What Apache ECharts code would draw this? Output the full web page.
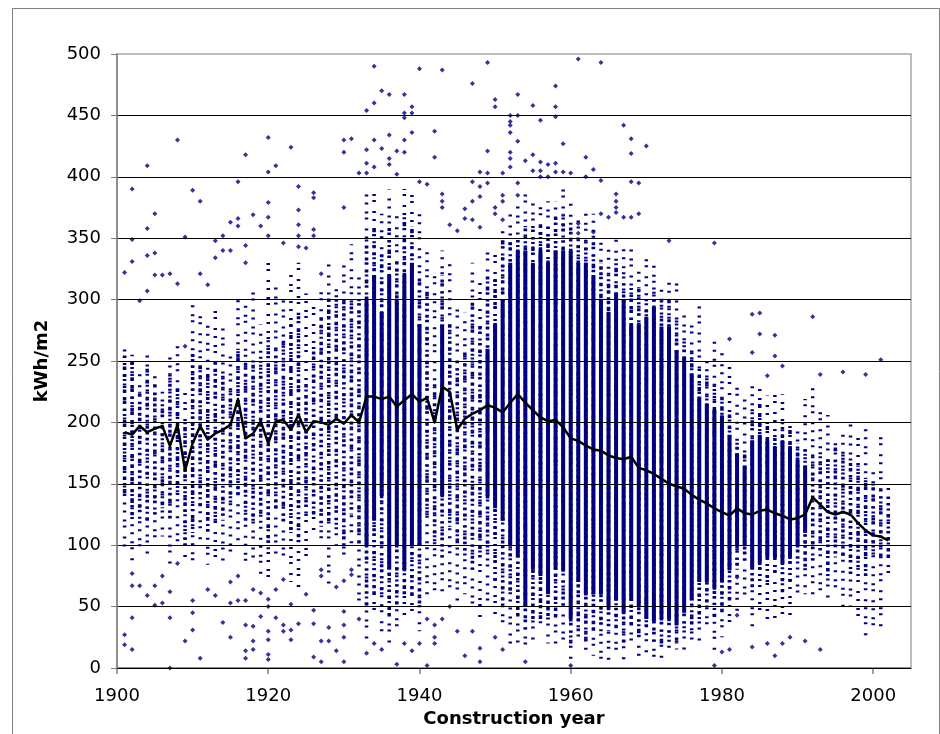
<!DOCTYPE html>
<html>
<head>
<meta charset="utf-8">
<title>kWh/m2 by construction year</title>
<script src="https://cdn.jsdelivr.net/npm/echarts@6/dist/echarts.min.js"></script>
<style>
  html, body { margin: 0; padding: 0; background: #fff; }
  #chart { width: 940px; height: 734px; }
</style>
</head>
<body>
<div id="chart"></div>
<script>
var years = [
  1901, 1902, 1903, 1904, 1905, 1906, 1907, 1908, 1909, 1910,
  1911, 1912, 1913, 1914, 1915, 1916, 1917, 1918, 1919, 1920,
  1921, 1922, 1923, 1924, 1925, 1926, 1927, 1928, 1929, 1930,
  1931, 1932, 1933, 1934, 1935, 1936, 1937, 1938, 1939, 1940,
  1941, 1942, 1943, 1944, 1945, 1946, 1947, 1948, 1949, 1950,
  1951, 1952, 1953, 1954, 1955, 1956, 1957, 1958, 1959, 1960,
  1961, 1962, 1963, 1964, 1965, 1966, 1967, 1968, 1969, 1970,
  1971, 1972, 1973, 1974, 1975, 1976, 1977, 1978, 1979, 1980,
  1981, 1982, 1983, 1984, 1985, 1986, 1987, 1988, 1989, 1990,
  1991, 1992, 1993, 1994, 1995, 1996, 1997, 1998, 1999, 2000,
  2001, 2002
];

// yearly average (black line)
var averageValues = [
  192, 190, 197, 192, 195, 197, 181, 198, 161, 183,
  197, 186, 191, 194, 198, 219, 187, 191, 201, 183,
  201, 202, 194, 206, 192, 201, 200, 198, 203, 199,
  206, 200, 221, 221, 219, 221, 213, 218, 223, 217,
  220, 200, 229, 225, 194, 203, 207, 210, 214, 212,
  208, 216, 223, 216, 210, 204, 201, 202, 196, 187,
  185, 181, 178, 177, 173, 171, 170, 172, 163, 161,
  158, 154, 150, 148, 146, 141, 137, 134, 130, 127,
  124, 130, 126, 125, 128, 129, 126, 124, 121, 122,
  125, 139, 133, 127, 125, 127, 125, 118, 112, 108,
  107, 104
];

// value band per year where buildings are scattered fairly often
var sparseLow = [
  99, 87, 95, 90, 100, 107, 85, 100, 88, 82,
  100, 84, 88, 86, 90, 100, 80, 90, 76, 70,
  90, 85, 70, 66, 88, 110, 100, 64, 100, 90,
  100, 50, 20, 40, 30, 20, 30, 40, 40, 30,
  60, 60, 60, 60, 50, 60, 50, 40, 50, 40,
  30, 20, 20, 15, 20, 30, 20, 20, 20, 5,
  20, 10, 10, 5, 5, 10, 3, 15, 10, 12,
  5, 5, 10, 15, 15, 20, 20, 30, 10, 25,
  35, 45, 55, 30, 40, 40, 40, 40, 40, 55,
  60, 60, 60, 55, 60, 45, 50, 40, 25, 30,
  30, 70
];
var sparseHigh = [
  260, 255, 240, 258, 240, 225, 260, 265, 225, 297,
  290, 280, 295, 280, 260, 300, 300, 310, 280, 330,
  310, 300, 320, 330, 305, 300, 310, 330, 313, 332,
  345, 320, 390, 390, 370, 390, 370, 390, 390, 370,
  340, 320, 340, 330, 295, 290, 330, 315, 340, 340,
  360, 370, 380, 390, 380, 380, 380, 380, 390, 380,
  370, 370, 370, 350, 345, 350, 345, 345, 330, 335,
  330, 310, 320, 316, 289, 282, 297, 255, 266, 259,
  250, 233, 220, 235, 230, 222, 226, 223, 200, 199,
  219, 235, 212, 206, 186, 190, 200, 191, 198, 160,
  192, 150
];

// band where the dots are packed closely
var denseLow = [
  140, 118, 120, 120, 125, 130, 120, 140, 100, 110,
  130, 110, 120, 120, 130, 140, 120, 120, 120, 95,
  130, 120, 110, 100, 125, 125, 115, 118, 115, 100,
  125, 100, 50, 60, 60, 40, 50, 60, 60, 50,
  120, 100, 90, 115, 100, 90, 80, 90, 90, 70,
  50, 60, 40, 30, 40, 40, 40, 40, 50, 20,
  30, 20, 30, 30, 30, 30, 20, 35, 25, 30,
  20, 20, 25, 20, 30, 30, 40, 50, 40, 45,
  55, 80, 85, 65, 70, 70, 75, 60, 70, 85,
  80, 85, 95, 75, 90, 90, 75, 80, 75, 90,
  90, 90
];
var denseHigh = [
  255, 250, 225, 245, 230, 215, 240, 230, 200, 260,
  250, 240, 250, 240, 230, 260, 250, 250, 250, 270,
  260, 270, 280, 290, 230, 260, 285, 300, 300, 300,
  300, 300, 350, 360, 340, 360, 330, 370, 360, 320,
  310, 230, 320, 280, 250, 260, 300, 280, 320, 320,
  350, 350, 350, 360, 360, 360, 360, 370, 370, 360,
  350, 350, 350, 330, 320, 330, 320, 310, 310, 300,
  310, 300, 300, 285, 270, 260, 245, 240, 230, 225,
  207, 185, 175, 210, 215, 200, 188, 200, 194, 183,
  178, 175, 175, 170, 180, 175, 170, 165, 155, 150,
  145, 140
];

// band where the column of dots is completely filled
var solidLow = [
  null, null, null, null, null, null, null, null, null, null,
  null, null, null, null, null, null, null, null, null, null,
  null, null, null, null, null, null, null, null, null, null,
  null, null, 100, 120, 140, 80, 100, 80, 100, 100,
  null, null, 140, null, null, null, null, null, 140, 130,
  120, 100, 90, 50, 80, 75, 60, 80, 80, 40,
  70, 60, 60, 60, 50, 55, 45, 55, 50, 40,
  38, 40, 40, 35, 45, 55, 70, 70, 65, 70,
  80, 100, 100, 80, 85, 90, 90, 85, 90, 100,
  110, null, null, null, null, null, null, null, null, null,
  null, null
];
var solidHigh = [
  null, null, null, null, null, null, null, null, null, null,
  null, null, null, null, null, null, null, null, null, null,
  null, null, null, null, null, null, null, null, null, null,
  null, null, 300, 320, 290, 320, 300, 320, 330, 280,
  null, null, 280, null, null, null, null, null, 260, 280,
  300, 330, 340, 340, 330, 340, 330, 340, 340, 340,
  330, 330, 320, 300, 290, 305, 300, 280, 280, 286,
  294, 278, 278, 259, 253, 240, 221, 215, 210, 205,
  190, 175, 165, 185, 190, 185, 180, 185, 180, 170,
  165, null, null, null, null, null, null, null, null, null,
  null, null
];

// single buildings outside the bands: [year, kWh/m2]
var outliers = [
  [1901, 322], [1901, 27], [1901, 19],
  [1902, 390], [1902, 349], [1902, 331], [1902, 77], [1902, 67], [1902, 41], [1902, 15],
  [1903, 299], [1903, 67],
  [1904, 409], [1904, 358], [1904, 336], [1904, 307], [1904, 59],
  [1905, 370], [1905, 338], [1905, 320], [1905, 67], [1905, 51],
  [1906, 320], [1906, 75], [1906, 53],
  [1907, 321], [1907, 62], [1907, 41], [1907, 0],
  [1908, 430], [1908, 313], [1908, 85],
  [1909, 351], [1909, 262], [1909, 22],
  [1910, 389], [1910, 55], [1910, 45], [1910, 31],
  [1911, 380], [1911, 321], [1911, 8],
  [1912, 312], [1912, 64],
  [1913, 348], [1913, 334], [1913, 59],
  [1914, 352], [1914, 340], [1914, 37],
  [1915, 363], [1915, 340], [1915, 70], [1915, 53], [1915, 25],
  [1916, 396], [1916, 366], [1916, 360], [1916, 75], [1916, 55],
  [1917, 418], [1917, 344], [1917, 330], [1917, 55], [1917, 35], [1917, 14], [1917, 8],
  [1918, 369], [1918, 64], [1918, 34], [1918, 22], [1918, 15],
  [1919, 360], [1919, 61], [1919, 42],
  [1920, 432], [1920, 404], [1920, 379], [1920, 367], [1920, 352], [1920, 56], [1920, 50],
  [1920, 30], [1920, 23], [1920, 11], [1920, 7],
  [1921, 409], [1921, 64], [1921, 41],
  [1922, 346], [1922, 72], [1922, 35], [1922, 30],
  [1923, 424], [1923, 52], [1923, 31], [1923, 23],
  [1924, 392], [1924, 373], [1924, 361], [1924, 352], [1924, 343], [1924, 36],
  [1925, 342], [1925, 60],
  [1926, 387], [1926, 383], [1926, 357], [1926, 352], [1926, 47], [1926, 36], [1926, 9],
  [1927, 321], [1927, 80], [1927, 75], [1927, 22], [1927, 5],
  [1928, 33], [1928, 22],
  [1929, 66], [1929, 14],
  [1930, 430], [1930, 420], [1930, 375], [1930, 71], [1930, 46], [1930, 35], [1930, 25], [1930, 5],
  [1931, 431], [1931, 80], [1931, 76],
  [1932, 403], [1932, 40],
  [1933, 454], [1933, 422], [1933, 411], [1933, 403], [1933, 12],
  [1934, 490], [1934, 460], [1934, 430], [1934, 408], [1934, 20],
  [1935, 470], [1935, 423], [1935, 15],
  [1936, 467], [1936, 434], [1936, 415], [1936, 410],
  [1937, 421], [1937, 402], [1937, 3],
  [1938, 467], [1938, 452], [1938, 448], [1938, 430], [1938, 420], [1938, 20],
  [1939, 457], [1939, 452], [1939, 436], [1939, 14],
  [1940, 488], [1940, 396], [1940, 20],
  [1941, 394], [1941, 40], [1941, 2],
  [1942, 437], [1942, 416], [1942, 35], [1942, 25], [1942, 20],
  [1943, 487], [1943, 386], [1943, 380], [1943, 375], [1943, 40],
  [1944, 361], [1944, 50],
  [1945, 356], [1945, 30],
  [1946, 374], [1946, 366], [1946, 10],
  [1947, 476], [1947, 396], [1947, 380], [1947, 365], [1947, 30],
  [1948, 404], [1948, 392], [1948, 384], [1948, 359], [1948, 16], [1948, 5],
  [1949, 493], [1949, 421], [1949, 403], [1949, 395],
  [1950, 463], [1950, 457], [1950, 375], [1950, 370], [1950, 25],
  [1951, 403], [1951, 385], [1951, 380], [1951, 365], [1951, 15],
  [1952, 450], [1952, 445], [1952, 442], [1952, 436], [1952, 420], [1952, 415], [1952, 408],
  [1953, 467], [1953, 450], [1953, 429], [1953, 395], [1953, 385],
  [1954, 413], [1954, 5],
  [1955, 458], [1955, 418], [1955, 405],
  [1956, 446], [1956, 412], [1956, 405], [1956, 400],
  [1957, 410], [1957, 400],
  [1958, 474], [1958, 457], [1958, 449], [1958, 411], [1958, 404],
  [1959, 427], [1959, 404],
  [1960, 403], [1960, 2],
  [1961, 496], [1961, 362], [1961, 354],
  [1962, 416], [1962, 400],
  [1963, 406], [1963, 355],
  [1964, 493], [1964, 397], [1964, 370],
  [1965, 367],
  [1966, 386], [1966, 380], [1966, 375], [1966, 371],
  [1967, 442], [1967, 367],
  [1968, 431], [1968, 419], [1968, 396], [1968, 367],
  [1969, 395], [1969, 370],
  [1970, 425],
  [1973, 348],
  [1979, 346], [1979, 2],
  [1980, 13],
  [1981, 268], [1981, 15],
  [1982, 74], [1982, 43],
  [1984, 288], [1984, 257], [1984, 17],
  [1985, 289], [1985, 272],
  [1986, 238], [1986, 20],
  [1987, 271], [1987, 254], [1987, 10],
  [1988, 246], [1988, 20],
  [1989, 25],
  [1991, 22],
  [1992, 286],
  [1993, 239], [1993, 15],
  [1996, 241],
  [1999, 239],
  [2001, 251]
];

var xTicks = [1900, 1920, 1940, 1960, 1980, 2000];

var navy = '#000080';
var font = '"DejaVu Sans", Arial, sans-serif';

function bandData(low, high) {
  var out = [];
  for (var i = 0; i < years.length; i++) {
    if (low[i] != null && high[i] != null) {
      out.push([years[i], low[i], high[i]]);
    }
  }
  return out;
}

// a column of markers: solid rect, or an uneven dash so rows do not line up
function columnRenderer(width, dash) {
  return function(params, api) {
    var top = api.coord([api.value(0), api.value(2)]);
    var bottom = api.coord([api.value(0), api.value(1)]);
    if (!dash) {
      return {
        type: 'rect',
        shape: { x: top[0] - width / 2, y: top[1], width: width, height: bottom[1] - top[1] },
        style: { fill: navy }
      };
    }
    return {
      type: 'line',
      shape: { x1: top[0], y1: bottom[1], x2: top[0], y2: top[1] },
      style: {
        stroke: navy, lineWidth: width, lineDash: dash,
        lineDashOffset: (params.dataIndex * 7) % 17
      }
    };
  };
}

var myChart = echarts.init(document.getElementById('chart'));
myChart.setOption({
  backgroundColor: '#fff',
  animation: false,
  textStyle: { fontFamily: font },
  graphic: [{
    type: 'rect',
    left: 10, top: 6,
    shape: { width: 927, height: 760 },
    style: { fill: null, stroke: '#808080', lineWidth: 1 },
    silent: true
  }],
  grid: {
    left: 117, right: 29, top: 54, bottom: 66,
    show: true, borderColor: '#a8a8a8', borderWidth: 1.5
  },
  xAxis: {
    type: 'value',
    min: 1900, max: 2005, interval: 20,
    name: 'Construction year',
    nameLocation: 'middle',
    nameGap: 42,
    nameTextStyle: { fontFamily: font, fontSize: 18, fontWeight: 'bold', color: '#000' },
    axisLine: { lineStyle: { color: '#808080', width: 1.5 } },
    axisTick: { show: true, length: 6, customValues: xTicks, lineStyle: { color: '#808080', width: 1.5 } },
    axisLabel: {
      customValues: xTicks, margin: 19, fontSize: 18, color: '#000', fontFamily: font,
      formatter: function(v) { return String(v); }
    },
    splitLine: { show: false }
  },
  yAxis: {
    type: 'value',
    min: 0, max: 500, interval: 50,
    z: 6,
    name: 'kWh/m2',
    nameLocation: 'middle',
    nameGap: 66,
    nameTextStyle: { fontFamily: font, fontSize: 18, fontWeight: 'bold', color: '#000' },
    axisLine: { show: true, lineStyle: { color: '#808080', width: 1.5 } },
    axisTick: { show: true, length: 6, lineStyle: { color: '#808080', width: 1 } },
    axisLabel: { margin: 16, fontSize: 18, color: '#000', fontFamily: font },
    splitLine: { show: true, showMaxLine: false, lineStyle: { color: '#000', width: 1 } }
  },
  series: [
    {
      type: 'custom',
      name: 'sparse',
      renderItem: columnRenderer(3.5, [2, 6, 2, 9, 2, 4, 2, 7]),
      encode: { x: 0, y: [1, 2] },
      data: bandData(sparseLow, sparseHigh),
      z: 2
    },
    {
      type: 'custom',
      name: 'dense',
      renderItem: columnRenderer(3.5, [2, 2, 3, 4, 2, 3, 2, 5]),
      encode: { x: 0, y: [1, 2] },
      data: bandData(denseLow, denseHigh),
      z: 3
    },
    {
      type: 'custom',
      name: 'solid',
      renderItem: columnRenderer(4, null),
      encode: { x: 0, y: [1, 2] },
      data: bandData(solidLow, solidHigh),
      z: 4
    },
    {
      type: 'scatter',
      name: 'buildings',
      symbol: 'diamond',
      symbolSize: 5,
      itemStyle: { color: navy },
      data: outliers,
      z: 5
    },
    {
      type: 'line',
      name: 'average',
      data: years.map(function(y, i) { return [y, averageValues[i]]; }),
      showSymbol: false,
      symbol: 'none',
      lineStyle: { color: '#000', width: 2.5, join: 'round' },
      z: 10
    }
  ]
});
</script>
</body>
</html>
